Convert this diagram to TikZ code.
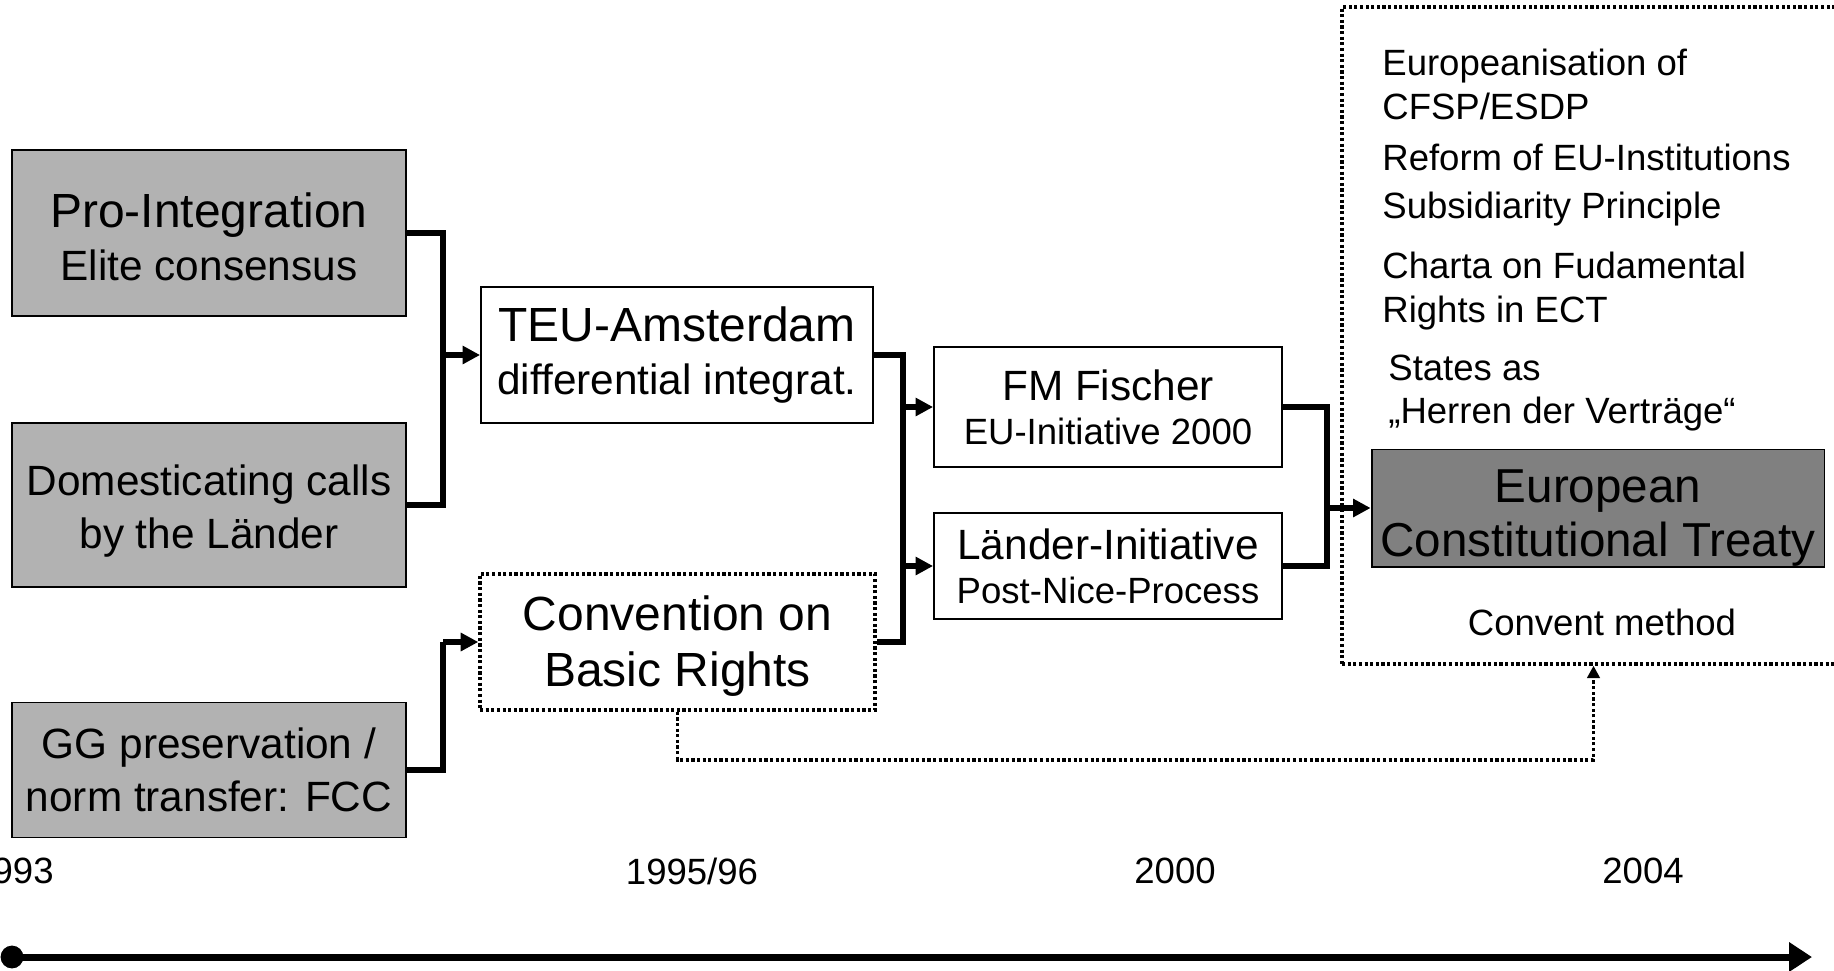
\documentclass[tikz,border=0pt]{standalone}
\usepackage{fontspec}
\setmainfont{Liberation Sans}
\usetikzlibrary{arrows.meta}

\definecolor{boxgray}{HTML}{B2B2B2}
\definecolor{ectgray}{HTML}{808080}

\newcommand{\txtL}{\fontsize{27.3}{30}\selectfont}
\newcommand{\txtM}{\fontsize{24.1}{30}\selectfont}
\newcommand{\txtS}{\fontsize{20.8}{25}\selectfont}

\tikzset{
  graybox/.style={draw, line width=1.1pt, fill=boxgray, inner sep=0pt,
    align=center, minimum width=7.88cm},
  whitebox/.style={draw, line width=1.1pt, fill=white, inner sep=0pt,
    align=center},
  dotbox/.style={draw, line width=2pt, dash pattern=on 1.8pt off 1.4pt,
    inner sep=0pt, align=center},
  conn/.style={line width=2.9pt},
  tip/.style={-{Triangle[length=10pt,width=10pt]}},
  dotconn/.style={line width=2pt, dash pattern=on 1.8pt off 1.4pt,
    -{Triangle[length=7pt,width=7pt]}},
  note/.style={font=\txtS, align=left, anchor=west, inner sep=0pt},
  year/.style={font=\txtS, inner sep=0pt}
}

\begin{document}
\begin{tikzpicture}[x=0.02cm, y=-0.02cm]
  \useasboundingbox (0,0) rectangle (1834,970);

  % frame round the treaty
  \node[dotbox, minimum width=10.06cm, minimum height=13.14cm] (frame) at (1593.5,335.5) {};

  % left column
  \node[graybox, minimum height=3.32cm, font=\txtM] (pro) at (209,233) {{\txtL\rule{0pt}{24pt}Pro-Integration}\\Elite consensus};
  \node[graybox, minimum height=3.28cm, font=\txtM] (dom) at (209,505) {\rule{0pt}{24pt}Domesticating calls\\by the L\"ander};
  \node[graybox, minimum height=2.7cm, font=\txtM] (gg) at (209,770) {GG preservation /\\norm transfer: FCC};

  % middle
  \node[whitebox, minimum width=7.84cm, minimum height=2.72cm, font=\txtM] (teu) at (677,355) {{\txtL TEU-Amsterdam}\\differential integrat.};
  \node[dotbox, minimum width=7.9cm, minimum height=2.72cm, font=\fontsize{27.3}{32}\selectfont] (conv) at (677.5,642) {\rule{0pt}{24pt}Convention on\\Basic Rights};

  \node[whitebox, minimum width=6.96cm, minimum height=2.4cm, font=\txtS] (fm) at (1108,407) {{\txtM FM Fischer}\\EU-Initiative 2000};
  \node[whitebox, minimum width=6.96cm, minimum height=2.12cm, font=\txtS] (land) at (1108,566) {{\txtM L\"ander-Initiative}\\Post-Nice-Process};

  % right
  \node[draw, line width=1.1pt, fill=ectgray, inner sep=0pt, align=center,
    minimum width=9.06cm, minimum height=2.28cm, font=\fontsize{27.1}{31}\selectfont] (ect) at (1598,508) {\rule{0pt}{30pt}European\\Constitutional Treaty};

  \node[note] (n1) at (1382,84) {Europeanisation of\\CFSP/ESDP};
  \node[note, font=\fontsize{20.8}{27}\selectfont] (n2) at (1382,185) {Reform of EU-Institutions\\Subsidiarity Principle};
  \node[note] (n3) at (1382,291) {Charta on Fudamental\\Rights in ECT};
  \node[note] (n4) at (1388,393) {States as\\„Herren der Verträge“};
  \node[font=\txtS, inner sep=0pt] (cm) at (1602,622) {Convent method};

  % connectors
  \coordinate (j1) at (443,0);
  \coordinate (j2) at (903,0);
  \coordinate (j3) at (1327,0);
  \draw[conn] (pro.east) -| (j1 |- dom.east) -- (dom.east);
  \draw[conn,tip] (j1 |- teu.west) -- (teu.west);
  \draw[conn] (gg.east) -| (j1 |- conv.west);
  \draw[conn,tip] (j1 |- conv.west) -- (conv.west);
  \draw[conn] (teu.east) -| (j2 |- conv.east) -- (conv.east);
  \draw[conn,tip] (j2 |- fm.west) -- (fm.west);
  \draw[conn,tip] (j2 |- land.west) -- (land.west);
  \draw[conn] (fm.east) -| (j3 |- land.east) -- (land.east);
  \draw[conn,tip] (j3 |- ect.west) -- (ect.west);
  \draw[dotconn] (conv.south) -- ++(0,48) -| (frame.south);

  % time line
  \node[year] (y1) at (13,871) {1993};
  \node[year] (y2) at (692,871) {1995/96};
  \node[year] (y3) at (1175,871) {2000};
  \node[year] (y4) at (1643,871) {2004};
  \node[circle, fill, inner sep=0pt, minimum size=13pt] (tstart) at (12,957) {};
  \coordinate (tend) at (1812,957);
  \draw[line width=4pt, -{Triangle[length=13pt,width=16pt]}] (tstart.center) -- (tend);
\end{tikzpicture}
\end{document}
